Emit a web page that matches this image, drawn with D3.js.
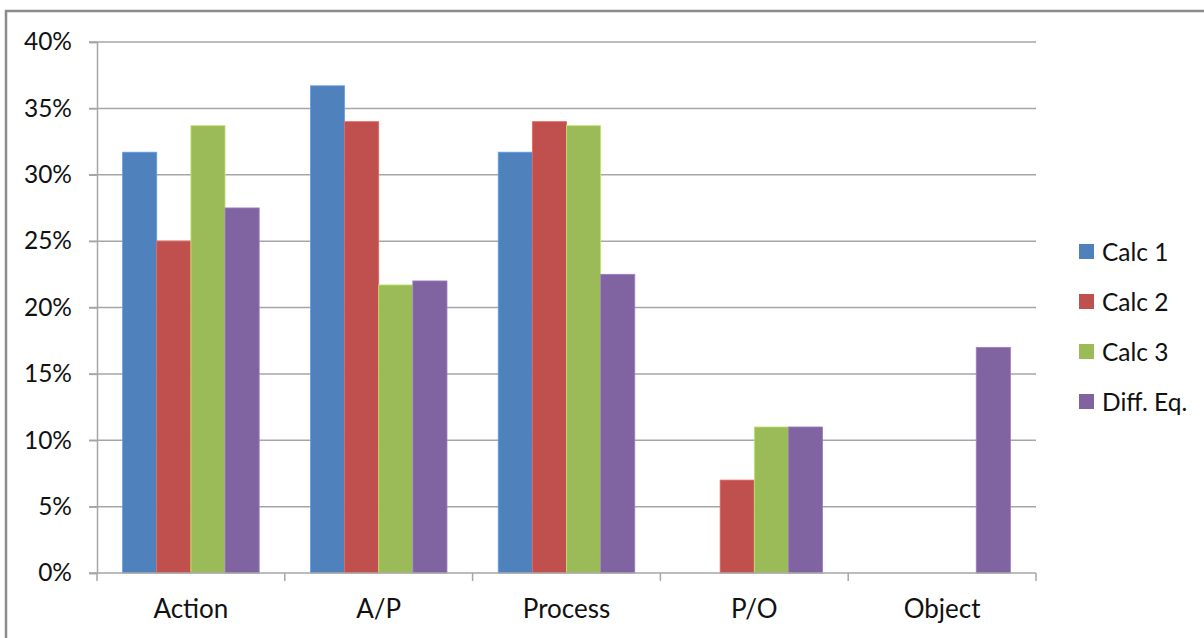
<!DOCTYPE html>
<html>
<head>
<meta charset="utf-8">
<script src="https://cdn.jsdelivr.net/npm/d3@7"></script>
<style>
  html, body { margin: 0; padding: 0; background: #fff; }
  svg { display: block; }
  text { font-family: Lato, "Open Sans", sans-serif; fill: #111; }
</style>
</head>
<body>
<svg id="chart" width="1204" height="638"></svg>
<script>
// Share of responses per category, for each course
const categories = ["Action", "A/P", "Process", "P/O", "Object"];
const seriesNames = ["Calc 1", "Calc 2", "Calc 3", "Diff. Eq."];
const calc1 = [0.317, 0.367, 0.317, 0, 0];
const calc2 = [0.25, 0.34, 0.34, 0.07, 0];
const calc3 = [0.337, 0.217, 0.337, 0.11, 0];
const diffEq = [0.275, 0.22, 0.225, 0.11, 0.17];
const yTicks = [0, 0.05, 0.10, 0.15, 0.20, 0.25, 0.30, 0.35, 0.40];
const colors = ["#4F81BD", "#C0504D", "#9BBB59", "#8064A2"];

const seriesValues = [calc1, calc2, calc3, diffEq];

const svg = d3.select("#chart");

// outer chart frame
svg.append("rect")
  .attr("x", 6).attr("y", 11)
  .attr("width", 1300).attr("height", 700)
  .attr("fill", "none")
  .attr("stroke", "#8c8c8c")
  .attr("stroke-width", 2.5);

const plot = { left: 97, right: 1036, top: 42, bottom: 573 };

const x0 = d3.scaleBand()
  .domain(categories)
  .range([plot.left, plot.right])
  .paddingInner(0)
  .paddingOuter(0);

const x1 = d3.scaleBand()
  .domain(seriesNames)
  .range([0, x0.bandwidth()])
  .paddingOuter(0.75)
  .paddingInner(0);

const y = d3.scaleLinear()
  .domain([0, 0.40])
  .range([plot.bottom, plot.top]);

// horizontal gridlines
svg.append("g")
  .selectAll("line")
  .data(yTicks.filter(t => t > 0))
  .join("line")
  .attr("x1", plot.left - 8)
  .attr("x2", plot.right)
  .attr("y1", d => y(d))
  .attr("y2", d => y(d))
  .attr("stroke", "#a6a6a6")
  .attr("stroke-width", 1.5);

// y axis
const yAxis = d3.axisLeft(y)
  .tickValues(yTicks)
  .tickFormat(d3.format(".0%"))
  .tickSize(8)
  .tickPadding(17);

const gy = svg.append("g")
  .attr("transform", `translate(${plot.left},0)`)
  .call(yAxis);
gy.select(".domain").attr("stroke", "#a6a6a6").attr("stroke-width", 1.5);
gy.selectAll(".tick line").attr("stroke", "#a6a6a6").attr("stroke-width", 1.5);
gy.selectAll(".tick text")
  .attr("font-size", 24.5)
  .attr("font-family", "Lato, sans-serif")
  .attr("fill", "#111");

// bars
const groups = svg.append("g")
  .selectAll("g")
  .data(categories)
  .join("g")
  .attr("transform", d => `translate(${x0(d)},0)`);

groups.selectAll("rect")
  .data((c, i) => seriesNames.map((s, j) => ({ s, v: seriesValues[j][i], j })))
  .join("rect")
  .filter(d => d.v > 0)
  .attr("x", d => x1(d.s))
  .attr("width", x1.bandwidth())
  .attr("y", d => y(d.v))
  .attr("height", d => y(0) - y(d.v))
  .attr("fill", d => colors[d.j])
  .attr("stroke", d => d3.color(colors[d.j]).brighter(0.6))
  .attr("stroke-width", 0.8);

// x axis
const xAxisLine = svg.append("g");
xAxisLine.append("line")
  .attr("x1", plot.left - 8).attr("x2", plot.right)
  .attr("y1", y(0)).attr("y2", y(0))
  .attr("stroke", "#a6a6a6").attr("stroke-width", 1.5);

const boundaries = categories.map(c => x0(c)).concat([plot.right]);
xAxisLine.selectAll("line.tick")
  .data(boundaries)
  .join("line")
  .attr("class", "tick")
  .attr("x1", d => d).attr("x2", d => d)
  .attr("y1", y(0)).attr("y2", y(0) + 8)
  .attr("stroke", "#a6a6a6").attr("stroke-width", 1.5);

svg.append("g")
  .selectAll("text")
  .data(categories)
  .join("text")
  .attr("x", d => x0(d) + x0.bandwidth() / 2)
  .attr("y", 618)
  .attr("text-anchor", "middle")
  .attr("font-size", 26)
  .text(d => d);

// legend
const legend = svg.append("g")
  .attr("transform", "translate(1079,252)");
const items = legend.selectAll("g")
  .data(seriesNames)
  .join("g")
  .attr("transform", (d, i) => `translate(0,${i * 50})`);
items.append("rect")
  .attr("x", 0).attr("y", -8)
  .attr("width", 15).attr("height", 15)
  .attr("fill", (d, i) => colors[i]);
items.append("text")
  .attr("x", 23)
  .attr("y", 0)
  .attr("dy", "0.35em")
  .attr("font-size", 24.5)
  .text(d => d);
</script>
</body>
</html>
